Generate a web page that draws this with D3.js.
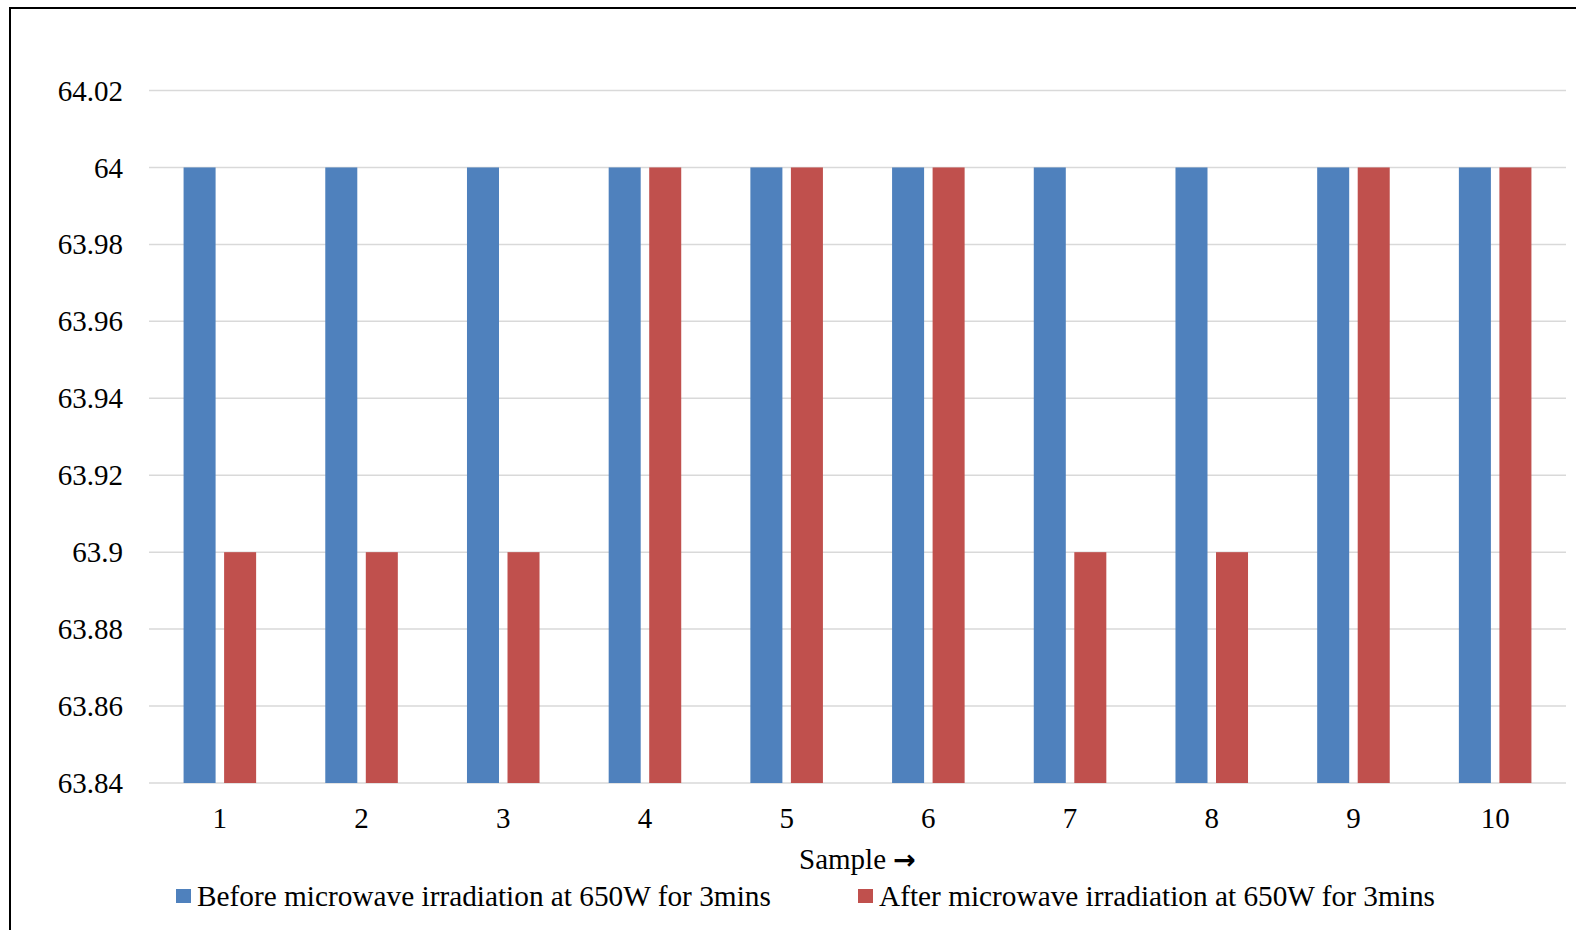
<!DOCTYPE html>
<html>
<head>
<meta charset="utf-8">
<script src="https://cdn.jsdelivr.net/npm/d3@7"></script>
<style>
  body { margin: 0; background: #fff; }
  svg text { font-family: 'Liberation Serif', 'Times New Roman', serif; font-size: 29px; fill: #000; }
</style>
</head>
<body>
<div id="chart"></div>
<script>
// Data
const samples = ["1", "2", "3", "4", "5", "6", "7", "8", "9", "10"];
const seriesNames = [
    "Before microwave irradiation at 650W for 3mins",
    "After microwave irradiation at 650W for 3mins"
];
const beforeValues = [64, 64, 64, 64, 64, 64, 64, 64, 64, 64];
const afterValues = [63.9, 63.9, 63.9, 64, 64, 64, 63.9, 63.9, 64, 64];
const yTicks = [63.84, 63.86, 63.88, 63.9, 63.92, 63.94, 63.96, 63.98, 64, 64.02];
const colors = ["#4F81BD", "#C0504D"];

const width = 1576, height = 930;
const margin = {top: 90.5, right: 10, bottom: 147, left: 149};

const svg = d3.select("#chart")
    .append("svg")
    .attr("width", width)
    .attr("height", height);

// outer frame (right and bottom edges fall outside the picture)
svg.append("rect")
    .attr("x", 10).attr("y", 8)
    .attr("width", 1700).attr("height", 1000)
    .attr("fill", "none")
    .attr("stroke", "#000")
    .attr("stroke-width", 2);

const x0 = d3.scaleBand()
    .domain(samples)
    .range([margin.left, width - margin.right])
    .paddingInner(0.488)
    .paddingOuter(0.244);
const x1 = d3.scaleBand()
    .domain([0, 1])
    .range([0, x0.bandwidth()])
    .paddingInner(0.21)
    .paddingOuter(0);
const y = d3.scaleLinear()
    .domain([63.84, 64.02])
    .range([height - margin.bottom, margin.top]);

// gridlines
svg.append("g")
    .selectAll("line")
    .data(yTicks)
    .join("line")
    .attr("x1", margin.left)
    .attr("x2", width - margin.right)
    .attr("y1", d => y(d))
    .attr("y2", d => y(d))
    .attr("stroke", "#d9d9d9")
    .attr("stroke-width", 1.5);

// y axis labels
const yAxis = svg.append("g")
    .attr("transform", `translate(${margin.left - 26},0)`)
    .call(d3.axisLeft(y).tickValues(yTicks).tickSize(0).tickPadding(0).tickFormat(d => +d.toFixed(2) + ""));
yAxis.attr("font-family", null).attr("font-size", null);
yAxis.select(".domain").remove();
yAxis.selectAll("text").attr("dy", "0.33em");

// bars
const rows = samples.map((s, i) => ({sample: s, values: [beforeValues[i], afterValues[i]]}));
svg.append("g")
    .selectAll("g")
    .data(rows)
    .join("g")
    .attr("transform", d => `translate(${x0(d.sample)},0)`)
    .selectAll("rect")
    .data(d => d.values.map((v, k) => ({k: k, v: v})))
    .join("rect")
    .attr("x", d => x1(d.k))
    .attr("width", x1.bandwidth())
    .attr("y", d => y(d.v))
    .attr("height", d => y(63.84) - y(d.v))
    .attr("fill", d => colors[d.k]);

// x axis labels
const xAxis = svg.append("g")
    .attr("transform", "translate(0,828)")
    .call(d3.axisBottom(x0).tickSize(0).tickPadding(0));
xAxis.attr("font-family", null).attr("font-size", null);
xAxis.select(".domain").remove();
xAxis.selectAll("text").attr("y", 0).attr("dy", null);

// axis title
const title = svg.append("text")
    .attr("x", (margin.left + width - margin.right) / 2)
    .attr("y", 869)
    .attr("text-anchor", "middle");
title.append("tspan").text("Sample ");
title.append("tspan")
    .style("font-family", "'DejaVu Sans', sans-serif")
    .style("font-weight", "bold")
    .style("font-size", "27px")
    .text("\u2192");

// legend
const legendX = [176, 858];
const legend = svg.append("g")
    .selectAll("g")
    .data(seriesNames)
    .join("g")
    .attr("transform", (d, i) => `translate(${legendX[i]},889)`);
legend.append("rect")
    .attr("width", 15).attr("height", 14)
    .attr("fill", (d, i) => colors[i]);
legend.append("text")
    .attr("x", 21).attr("y", 17)
    .style("font-size", "29.3px")
    .text(d => d);
</script>
</body>
</html>
